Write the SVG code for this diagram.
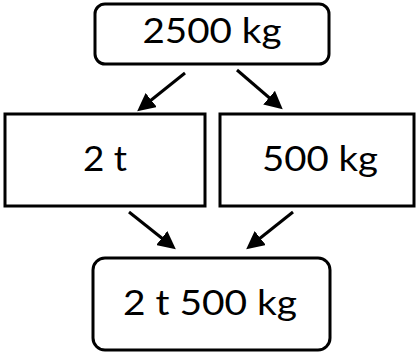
<svg xmlns="http://www.w3.org/2000/svg" width="418" height="356" viewBox="0 0 418 356">
<style>
.box{fill:#fff;stroke:#000;stroke-width:3}
.lbl{font-family:Lato,"Liberation Sans",Arial,sans-serif;font-weight:400;font-size:35px;fill:#000;text-anchor:middle}
.con{stroke:#000;stroke-width:3;fill:none;marker-end:url(#ah)}
</style>
<defs>
<marker id="ah" viewBox="0 0 10 10" refX="8" refY="5" markerWidth="6" markerHeight="6" markerUnits="strokeWidth" orient="auto">
<path d="M0,0 L10,5 L0,10 z" fill="#000"/>
</marker>
</defs>
<g id="node-top"><rect class="box" x="95" y="4" width="234" height="60" rx="10"/><text class="lbl" x="212" y="43" textLength="139" lengthAdjust="spacingAndGlyphs">2500 kg</text></g>
<g id="node-left"><rect class="box" x="5" y="114" width="200" height="92"/><text class="lbl" x="105" y="171" textLength="44" lengthAdjust="spacingAndGlyphs">2 t</text></g>
<g id="node-right"><rect class="box" x="220" y="114" width="194" height="92"/><text class="lbl" x="320" y="171" textLength="116" lengthAdjust="spacingAndGlyphs">500 kg</text></g>
<g id="node-bottom"><rect class="box" x="93" y="258" width="237" height="92" rx="12"/><text class="lbl" x="210" y="315" textLength="174" lengthAdjust="spacingAndGlyphs">2 t 500 kg</text></g>
<g id="connectors">
<path class="con" d="M185,73 L140,109"/>
<path class="con" d="M237,70 L280,107"/>
<path class="con" d="M129,212 L173,247"/>
<path class="con" d="M293,212 L249,247"/>
</g>
</svg>
